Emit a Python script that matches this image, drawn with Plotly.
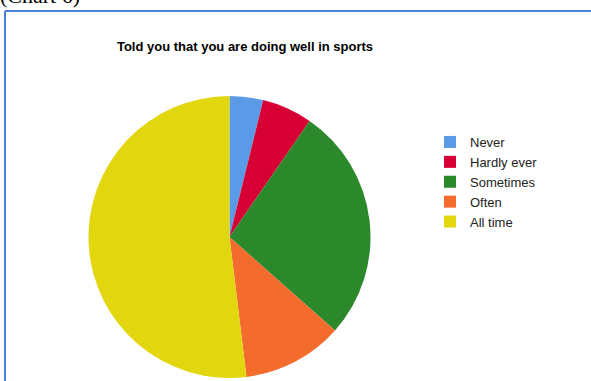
import plotly.graph_objects as go

# Survey item: how often someone told the respondent they were doing well in sports
categories = ["Never", "Hardly ever", "Sometimes", "Often", "All time"]
counts = [2, 3, 14, 6, 27]
slice_colors = ["#5a9ae6", "#d70034", "#2b892c", "#f36b2d", "#e2d70f"]

chart_title = "Told you that you are doing well in sports"
caption = "(Chart 6)"

W, H = 591, 381

fig = go.Figure(
    go.Pie(
        labels=categories,
        values=counts,
        sort=False,
        direction="clockwise",
        rotation=0,
        textinfo="none",
        hoverinfo="label+value+percent",
        marker=dict(colors=slice_colors, line=dict(width=0)),
        domain=dict(x=[(229.5 - 141) / W, (229.5 + 141) / W],
                    y=[(H - 237 - 141) / H, (H - 237 + 141) / H]),
    )
)

border = "#4a7fd6"
fig.update_layout(
    width=W,
    height=H,
    margin=dict(l=0, r=0, t=0, b=0),
    paper_bgcolor="white",
    plot_bgcolor="white",
    title=dict(
        text=chart_title,
        x=245 / W,
        xanchor="center",
        y=1 - 46 / H,
        yanchor="middle",
        font=dict(family="Liberation Sans, Arial, sans-serif", size=13, color="#000000",
                  weight="bold"),
    ),
    legend=dict(
        x=430 / W,
        xanchor="left",
        y=1 - 127 / H,
        yanchor="top",
        font=dict(family="Liberation Sans, Arial, sans-serif", size=13, color="#222222"),
        bgcolor="rgba(0,0,0,0)",
        itemwidth=30,
    ),
    shapes=[
        dict(type="line", xref="paper", yref="paper",
             x0=5 / W, x1=1.0, y0=1 - 11 / H, y1=1 - 11 / H,
             line=dict(color=border, width=2)),
        dict(type="line", xref="paper", yref="paper",
             x0=5 / W, x1=5 / W, y0=1 - 11 / H, y1=0,
             line=dict(color=border, width=2)),
    ],
    annotations=[
        # page caption above the framed chart, running off the top edge
        dict(text=caption, xref="paper", yref="paper", x=-2 / W, xanchor="left",
             y=1 - 10 / H, yanchor="bottom", showarrow=False,
             font=dict(family="Liberation Serif, Times New Roman, serif", size=22,
                       color="#000000")),
    ],
)

fig.write_html("out.html")
